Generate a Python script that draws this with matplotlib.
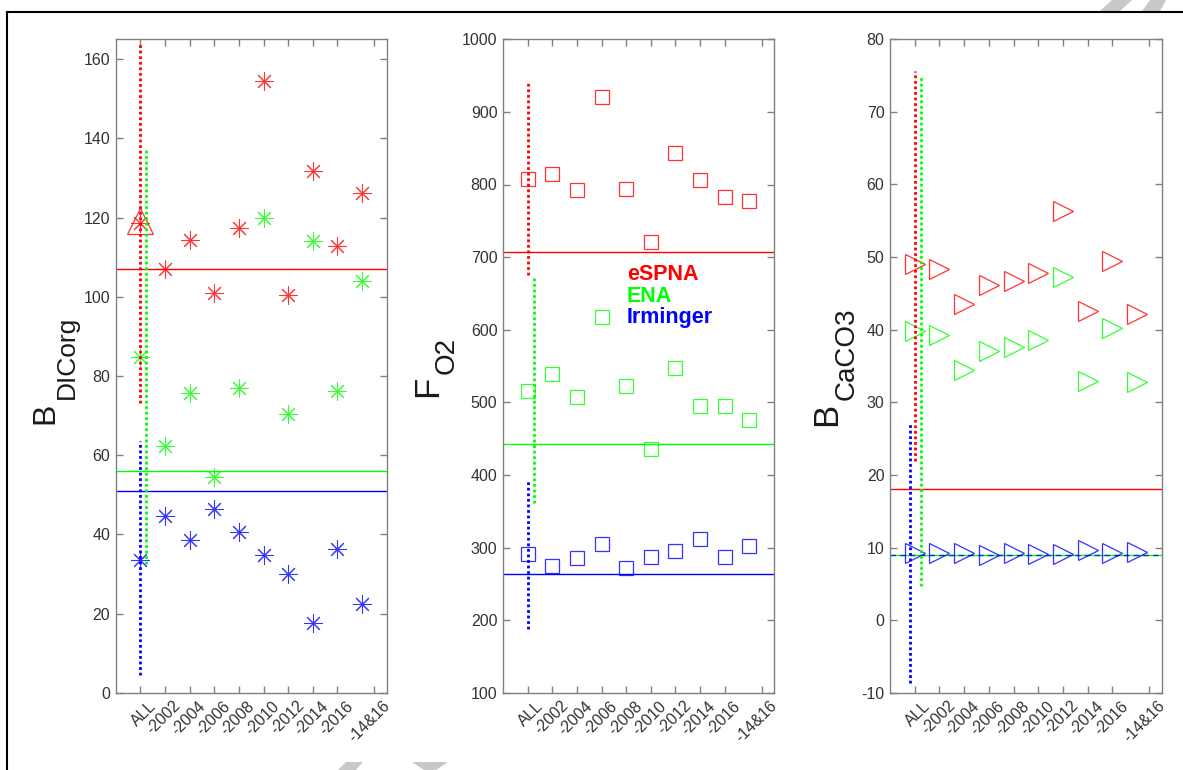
import matplotlib
matplotlib.use('Agg')
import matplotlib.pyplot as plt
from matplotlib.transforms import ScaledTranslation
from matplotlib.patches import Polygon
from matplotlib.lines import Line2D

plt.rcParams['font.family'] = ['Liberation Sans', 'DejaVu Sans']
plt.rcParams['axes.unicode_minus'] = False

# ---------------- data ----------------
categories = ['ALL', '-2002', '-2004', '-2006', '-2008', '-2010', '-2012', '-2014', '-2016', '-14&16']
x_pos = [1, 2, 3, 4, 5, 6, 7, 8, 9, 10]
tick_pos = [1, 2, 3, 4, 5, 6, 7, 8, 9, 10.5]
regions = ['eSPNA', 'ENA', 'Irminger']

# Panel 1: B_DICorg
dic_espna = [118.5, 106.9, 114.3, 100.9, 117.3, 154.4, 100.5, 131.7, 112.7, 126.3]
dic_ena = [84.8, 62.4, 75.6, 54.4, 76.9, 119.8, 70.5, 114.0, 76.3, 103.9]
dic_irm = [33.6, 44.6, 38.6, 46.3, 40.6, 34.7, 30.0, 17.6, 36.4, 22.4]
dic_espna_all_alt = 119.0
dic_ref = [107.1, 56.0, 51.0]
dic_range = [[73.2, 164.0], [32.4, 137.0], [4.4, 63.6]]

# Panel 2: F_O2
o2_espna = [806.9, 813.8, 792.2, 921.1, 794.0, 720.6, 842.7, 806.0, 782.1, 777.5]
o2_ena = [515.6, 539.4, 507.8, 617.0, 522.3, 435.2, 547.2, 494.5, 494.5, 476.1]
o2_irm = [291.0, 274.0, 285.0, 304.3, 271.7, 286.4, 294.7, 311.2, 287.3, 302.5]
o2_ref = [707.3, 443.0, 264.0]
o2_range = [[675.2, 939.4], [361.0, 671.0], [187.2, 393.9]]

# Panel 3: B_CaCO3
ca_espna = [49.0, 48.4, 43.5, 46.1, 46.7, 47.8, 56.4, 42.6, 49.4, 42.1]
ca_ena = [39.8, 39.3, 34.4, 37.1, 37.6, 38.6, 47.25, 33.0, 40.3, 32.8]
ca_irm = [9.2, 9.2, 9.2, 9.0, 9.2, 9.1, 9.1, 9.6, 9.3, 9.4]
ca_ref = [18.0, 9.0, 9.0]
ca_range = [[21.9, 75.7], [4.7, 75.0], [-8.7, 27.3]]

# ---------------- style ----------------
RED, GREEN, BLUE = '#ff0000', '#00ff00', '#0000ff'
colors = [RED, GREEN, BLUE]
SPINE = '#808080'
TXT = '#333333'
MALPHA = 0.8

W, H = 1183, 770
fig = plt.figure(figsize=(W / 100, H / 100), dpi=100)


def fx(px):
    return px / W


def fy(py):
    return 1 - py / H


def make_axes(left_px, right_px):
    top, bottom = 39.3, 692.7
    ax = fig.add_axes([fx(left_px), fy(bottom), (right_px - left_px) / W, (bottom - top) / H])
    ax.set_xlim(0, 11)
    for s in ax.spines.values():
        s.set_color(SPINE)
        s.set_linewidth(1.0)
    ax.tick_params(direction='in', length=5, width=1.0, color=SPINE, labelcolor=TXT,
                   labelsize=11.5, top=True, right=True, pad=4)
    ax.set_xticks(tick_pos)
    ax.set_xticklabels(categories, rotation=45, ha='right', rotation_mode='anchor')
    off = ScaledTranslation(8 / 100, 0, fig.dpi_scale_trans)
    for lab in ax.get_xticklabels():
        lab.set_transform(lab.get_transform() + off)
    return ax


def draw_markers(ax, series, marker, ms, mew=0.75):
    for vals, c in zip(series, colors):
        ax.plot(x_pos, vals, linestyle='none', marker=marker, ms=ms, mec=c,
                mfc='none', mew=mew, alpha=MALPHA, zorder=3)


def draw_ranges(ax, ranges, range_dx):
    for (lo, hi), c, dx in zip(ranges, colors, range_dx):
        ax.plot([1 + dx, 1 + dx], [lo, hi], color=c, lw=2.0, linestyle=(0, (1, 1)), zorder=4)


ASTER = (8, 2, 0)

# Panel 1
ax1 = make_axes(115.7, 386.7)
ax1.set_ylim(0, 165)
ax1.set_yticks(range(0, 161, 20))
draw_markers(ax1, [dic_espna, dic_ena, dic_irm], ASTER, 13)
ax1.plot([1], [dic_espna_all_alt], linestyle='none', marker='^', ms=19, mec=RED, mfc='none',
         mew=0.9, alpha=MALPHA, zorder=3)
for r, c in zip(dic_ref, colors):
    ax1.axhline(r, color=c, lw=1.0, zorder=2)
draw_ranges(ax1, dic_range, [0, 0.24, 0])

# Panel 2
ax2 = make_axes(503.0, 774.0)
ax2.set_ylim(100, 1000)
ax2.set_yticks(range(100, 1001, 100))
draw_markers(ax2, [o2_espna, o2_ena, o2_irm], 's', 9.5, mew=0.9)
for r, c in zip(o2_ref, colors):
    ax2.axhline(r, color=c, lw=1.0, zorder=2)
draw_ranges(ax2, o2_range, [0, 0.26, 0])

# Panel 3
ax3 = make_axes(890.0, 1161.7)
ax3.set_ylim(-10, 80)
ax3.set_yticks(range(-10, 81, 10))
draw_markers(ax3, [ca_espna, ca_ena, ca_irm], '>', 15, mew=0.9)
ax3.axhline(ca_ref[0], color=RED, lw=1.0, zorder=2)
ax3.axhline(ca_ref[1], color=GREEN, lw=1.0, zorder=2)
ax3.axhline(ca_ref[2], color=BLUE, lw=1.0, linestyle=(0, (4, 3)), alpha=0.8, zorder=2)
draw_ranges(ax3, ca_range, [0, 0.26, -0.2])

# Region labels in panel 2
for i, (name, c) in enumerate(zip(regions, colors)):
    ax2.text(fx(626.7), fy(274 + i * 22), name, transform=fig.transFigure, color=c,
             fontsize=15.5, fontweight='bold', ha='left', va='center')


# Y labels (main letter + subscript)
def ylabel(main, sub, main_base_x, main_cy, sub_base_x, sub_cy, fs_main, fs_sub):
    fig.text(fx(main_base_x), fy(main_cy), main, rotation=90, rotation_mode='anchor',
             ha='center', va='baseline', fontsize=fs_main, color='#1a1a1a')
    fig.text(fx(sub_base_x), fy(sub_cy), sub, rotation=90, rotation_mode='anchor',
             ha='center', va='baseline', fontsize=fs_sub, color='#1a1a1a')


ylabel('B', 'DICorg', 53, 413, 74, 357, 23, 19)
ylabel('F', 'O2', 437, 386, 454, 356, 25, 20)
ylabel('B', 'CaCO3', 836, 414, 854, 354, 25, 20)

# Figure frame lines
fig.add_artist(Line2D([fx(7), fx(7)], [fy(11.7), fy(770)], transform=fig.transFigure,
                      color='black', lw=1.5))
fig.add_artist(Line2D([fx(7), fx(1183)], [fy(11.7), fy(11.7)], transform=fig.transFigure,
                      color='black', lw=1.5))

# Watermark fragments
wm = [
    [(1100, 11), (1112, 0), (1132, 0), (1120, 11)],
    [(1142, 11), (1150, 0), (1166, 0), (1160, 11)],
    [(338, 770), (346, 762), (363, 762), (356, 770)],
    [(412, 762), (448, 762), (436, 770), (424, 770)],
]
for poly in wm:
    fig.add_artist(Polygon([(fx(a), fy(b)) for a, b in poly], closed=True,
                           transform=fig.transFigure, facecolor='#c8c8c8', edgecolor='none'))

fig.savefig('out.png', dpi=100)
